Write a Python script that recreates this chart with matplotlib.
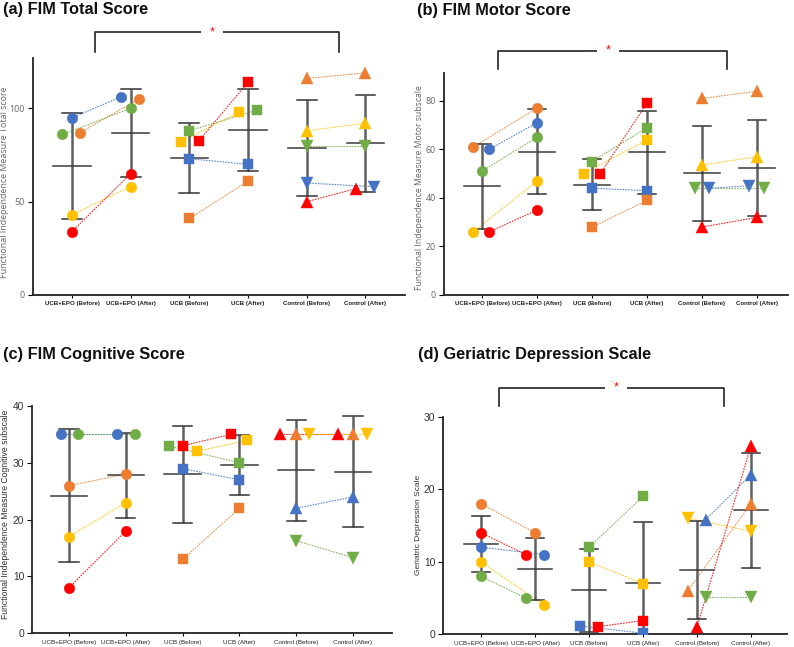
import numpy as np
import matplotlib
matplotlib.use("Agg")
import matplotlib.pyplot as plt

W, H = 794, 647
BLUE, ORANGE, GREEN, YELLOW, RED = '#4472C4', '#ED7D31', '#70AD47', '#FFC000', '#FF0000'

categories = ['UCB+EPO (Before)', 'UCB+EPO (After)', 'UCB (Before)', 'UCB (After)',
              'Control (Before)', 'Control (After)']

# ---------------- data (a) FIM Total ----------------
a_g1_colors = [BLUE, ORANGE, GREEN, YELLOW, RED]
a_g1_before = [95, 87, 86, 43, 34]
a_g1_after = [106, 105, 100, 58, 65]
a_g2_colors = [GREEN, YELLOW, RED, BLUE, ORANGE]
a_g2_before = [88, 82, 82.5, 73, 41]
a_g2_after = [99, 98, 114, 70, 61]
a_g3_colors = [ORANGE, YELLOW, GREEN, BLUE, RED]
a_g3_before = [116, 88, 80, 60, 50]
a_g3_after = [119, 92, 80, 58, 57]

# ---------------- data (b) FIM Motor ----------------
b_g1_colors = [ORANGE, BLUE, GREEN, YELLOW, RED]
b_g1_before = [61, 60, 51, 26, 26]
b_g1_after = [77, 71, 65, 47, 35]
b_g2_colors = [GREEN, YELLOW, RED, BLUE, ORANGE]
b_g2_before = [55, 50, 50, 44, 28]
b_g2_after = [69, 64, 79, 43, 39]
b_g3_colors = [ORANGE, YELLOW, GREEN, BLUE, RED]
b_g3_before = [81, 53.5, 44, 44, 28]
b_g3_after = [84, 57, 44, 45, 32]

# ---------------- data (c) FIM Cognitive ----------------
c_g1_colors = [BLUE, GREEN, ORANGE, YELLOW, RED]
c_g1_before = [35, 35, 26, 17, 8]
c_g1_after = [35, 35, 28, 23, 18]
c_g2_colors = [GREEN, RED, YELLOW, BLUE, ORANGE]
c_g2_before = [33, 33, 32, 29, 13]
c_g2_after = [30, 35, 34, 27, 22]
c_g3_colors = [RED, ORANGE, YELLOW, BLUE, GREEN]
c_g3_before = [35, 35, 35, 22, 16.3]
c_g3_after = [35, 35, 35, 24, 13.3]

# ---------------- data (d) Geriatric Depression ----------------
d_g1_colors = [ORANGE, RED, BLUE, YELLOW, GREEN]
d_g1_before = [18, 14, 12, 10, 8]
d_g1_after = [14, 11, 11, 4, 5]
d_g2_colors = [GREEN, YELLOW, BLUE, RED]
d_g2_before = [12, 10, 1.15, 1.05]
d_g2_after = [19, 7, 0.15, 1.9]
d_g3_colors = [YELLOW, BLUE, ORANGE, GREEN, RED]
d_g3_before = [16, 15.8, 6, 5.2, 1]
d_g3_after = [14.2, 22, 18, 5.2, 26]

# ---------------- styling: markers and horizontal jitter ----------------
a_g3_markers = ['^', '^', 'v', 'v', '^']
b_g3_markers = ['^', '^', 'v', 'v', '^']
c_g3_markers = ['^', '^', 'v', '^', 'v']
d_g3_markers = ['v', '^', '^', 'v', '^']

a_jit = [([0, .14, -.17, 0, 0], [-.17, .14, 0, 0, 0]),
         ([0, -.15, .16, 0, 0], [.15, -.15, 0, 0, 0]),
         ([0, 0, 0, 0, 0], [0, 0, 0, .14, -.16])]
b_jit = [([-.16, .13, 0, -.16, .13], [0, 0, 0, 0, 0]),
         ([0, -.15, .15, 0, 0], [0, 0, 0, 0, 0]),
         ([0, 0, -.13, .13, 0], [0, 0, .13, -.15, 0])]
c_jit = [([-.14, .16, 0, 0, 0], [-.15, .16, 0, 0, 0]),
         ([-.24, 0, .25, 0, 0], [0, -.15, .14, 0, 0]),
         ([-.28, 0, .23, 0, 0], [-.27, 0, .24, 0, 0])]
d_jit = [([0, 0, 0, 0, 0], [0, -.17, .17, .17, -.17]),
         ([0, 0, -.17, .17], [0, 0, 0, 0]),
         ([-.16, .16, -.17, .16, 0], [0, 0, 0, 0, 0])]

fig = plt.figure(figsize=(W / 100, H / 100), dpi=100)


def ax_at(l, r, b, t):
    return fig.add_axes([l / W, 1 - b / H, (r - l) / W, (b - t) / H])


def panel(ax, groups, xlim, ylim, yticks, light):
    x0 = np.arange(len(categories))
    for gi, (cols, mks, bef, aft, (jb, ja)) in enumerate(groups):
        xb, xa = x0[2 * gi], x0[2 * gi + 1]
        # connecting dotted lines
        for k in range(len(bef)):
            ax.plot([xb + jb[k], xa + ja[k]], [bef[k], aft[k]], color=cols[k],
                    lw=0.8, ls=(0, (1.5, 1.0)), alpha=0.85, zorder=2)
        # mean +/- SD
        for xc, vals in ((xb, bef), (xa, aft)):
            m = np.mean(vals)
            s = np.std(vals, ddof=1)
            ax.plot([xc, xc], [m - s, m + s], color='#5f5f5f', lw=1.8, zorder=3,
                    solid_capstyle='butt')
            for yy in (m - s, m + s):
                ax.plot([xc - .17, xc + .17], [yy, yy], color='#333333', lw=1.1, zorder=3)
            ax.plot([xc - .32, xc + .32], [m, m], color='#3a3a3a', lw=1.1, zorder=3)
        # markers
        for k in range(len(bef)):
            mk = mks[k]
            ms = 8.2 if mk in ('^', 'v') else (7.3 if mk == 's' else 7.6)
            for xx, yy in ((xb + jb[k], bef[k]), (xa + ja[k], aft[k])):
                ax.plot(xx, yy, marker=mk, color=cols[k], ms=ms,
                        mec=cols[k], mew=0.3, ls='none', zorder=4)
    ax.set_xlim(*xlim)
    ax.set_ylim(*ylim)
    ax.set_yticks(yticks)
    for sp in ('top', 'right'):
        ax.spines[sp].set_visible(False)
    for sp in ('left', 'bottom'):
        ax.spines[sp].set_linewidth(1.3)
        ax.spines[sp].set_color('#222222')
    ax.set_xticks(x0)
    if light:
        ax.set_xticklabels(categories, fontsize=4.4, fontweight='bold',
                           family='Liberation Sans', color='#222222')
        ax.tick_params(axis='y', labelsize=6.4, labelcolor='#666666', length=3.5,
                       width=0.8, pad=2.5)
        for lab in ax.get_yticklabels():
            lab.set_family('Open Sans')
    else:
        ax.set_xticklabels(categories, fontsize=4.5, family='Liberation Sans',
                           color='#222222')
        ax.tick_params(axis='y', labelsize=7.4, labelcolor='#333333', length=3.5,
                       width=0.8, pad=2)
        for lab in ax.get_yticklabels():
            lab.set_family('Liberation Sans')
    ax.tick_params(axis='x', length=2.5, width=0.8, pad=2)


def ylab(px, py, text, light, size):
    if light:
        fig.text(px / W, 1 - py / H, text, rotation=90, fontsize=size, color='#666666',
                 family='Open Sans', ha='center', va='center')
    else:
        fig.text(px / W, 1 - py / H, text, rotation=90, fontsize=size, color='#333333',
                 family='Liberation Sans', ha='center', va='center')


def bracket(ax, x1, x2, ytop, ybot, xs, dash=False):
    ax.plot([x1, x1, x2, x2], [ybot, ytop, ytop, ybot], color='#222222', lw=1.2,
            clip_on=False, zorder=5)
    ax.text(xs, ytop, '*', color='#FF0000', fontsize=9, ha='center', va='center',
            family='Liberation Sans', clip_on=False, zorder=6,
            bbox=dict(facecolor='white', edgecolor='none', pad=6))
    if dash:
        ax.text(xs - 0.08, ytop + (ytop - ybot) * 0.4, '-', color='#999999', fontsize=5,
                ha='center', va='center', clip_on=False, zorder=7)


# (a)
ax = ax_at(33, 405, 295, 58.3)
panel(ax, [(a_g1_colors, ['o'] * 5, a_g1_before, a_g1_after, a_jit[0]),
           (a_g2_colors, ['s'] * 5, a_g2_before, a_g2_after, a_jit[1]),
           (a_g3_colors, a_g3_markers, a_g3_before, a_g3_after, a_jit[2])],
      (-0.664, 5.673), (0, 126.8), [0, 50, 100], True)
bracket(ax, 0.39, 4.55, 140.9, 130.2, 2.385)
ylab(4.8, 182, 'Functional Independence Measure Total score', True, 6.4)

# (b)
ax = ax_at(444, 788, 295, 73)
panel(ax, [(b_g1_colors, ['o'] * 5, b_g1_before, b_g1_after, b_jit[0]),
           (b_g2_colors, ['s'] * 5, b_g2_before, b_g2_after, b_jit[1]),
           (b_g3_colors, b_g3_markers, b_g3_before, b_g3_after, b_jit[2])],
      (-0.691, 5.564), (0, 91.5), [0, 20, 40, 60, 80], True)
bracket(ax, 0.29, 4.45, 100.7, 93.1, 2.29)
ylab(419, 188, 'Functional Independence Measure Motor subscale', True, 6.2)

# (c)
ax = ax_at(32, 392, 633.3, 406)
panel(ax, [(c_g1_colors, ['o'] * 5, c_g1_before, c_g1_after, c_jit[0]),
           (c_g2_colors, ['s'] * 5, c_g2_before, c_g2_after, c_jit[1]),
           (c_g3_colors, c_g3_markers, c_g3_before, c_g3_after, c_jit[2])],
      (-0.651, 5.687), (0, 40), [0, 10, 20, 30, 40], False)
ylab(6, 514, 'Functional Independence Measure Cognitive subscale', False, 6.2)

# (d)
ax = ax_at(443, 787, 634.3, 416.7)
panel(ax, [(d_g1_colors, ['o'] * 5, d_g1_before, d_g1_after, d_jit[0]),
           (d_g2_colors, ['s'] * 4, d_g2_before, d_g2_after, d_jit[1]),
           (d_g3_colors, d_g3_markers, d_g3_before, d_g3_after, d_jit[2])],
      (-0.704, 5.667), (0, 30), [0, 10, 20, 30], False)
bracket(ax, 0.33, 4.5, 33.97, 31.5, 2.5, dash=True)
ylab(419, 525, 'Geriatric Depression Scale', False, 6.0)

# titles
tkw = dict(fontsize=11.8, fontweight='bold', family='Liberation Sans', va='center',
           ha='left', color='#111111')
fig.text(3 / W, 1 - 9.5 / H, '(a) FIM Total Score', **tkw)
fig.text(417 / W, 1 - 10 / H, '(b) FIM Motor Score', **tkw)
fig.text(3 / W, 1 - 354 / H, '(c) FIM Cognitive Score', **tkw)
fig.text(418 / W, 1 - 354 / H, '(d) Geriatric Depression Scale', **tkw)

fig.savefig('out.png', dpi=100, facecolor='white')
